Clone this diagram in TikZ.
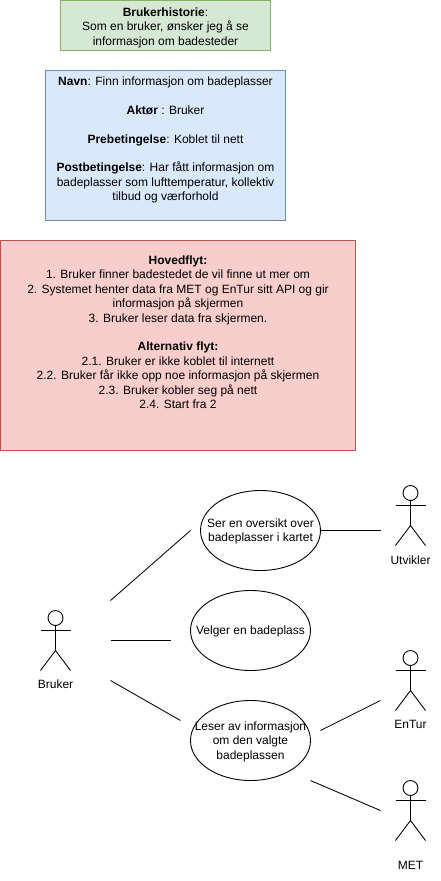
\documentclass[tikz,border=0pt]{standalone}
\usepackage{fontspec}
\setmainfont{Liberation Sans}
\usetikzlibrary{shapes.geometric}
\definecolor{gfill}{HTML}{D5E8D4}\definecolor{gline}{HTML}{82B366}
\definecolor{bfill}{HTML}{DAE8FC}\definecolor{bline}{HTML}{6C8EBF}
\definecolor{rfill}{HTML}{F8CECC}\definecolor{rline}{HTML}{B85450}
\tikzset{
  x=1pt,y=-1pt,
  every node/.style={font=\fontsize{12}{14.4}\selectfont,inner sep=0pt,outer sep=0pt,text=black},
  noteboxbase/.style={rectangle,draw,line width=1pt,align=center,anchor=north west},
  greenbox/.style={noteboxbase,fill=gfill,draw=gline,minimum width=210pt,minimum height=50pt},
  bluebox/.style={noteboxbase,fill=bfill,draw=bline,minimum width=240pt,minimum height=150pt},
  redbox/.style={noteboxbase,fill=rfill,draw=rline,minimum width=355pt,minimum height=210pt},
  usecase/.style={ellipse,draw,line width=0.9pt,minimum width=120pt,minimum height=80pt},
  uctext/.style={align=center,yshift=-1pt},
  assoc/.style={line width=0.85pt},
  pics/actor/.style n args={2}{code={
    \node[circle,draw,line width=0.9pt,minimum size=15pt] (-head) at (0,7.5) {};
    \coordinate (-hip) at (0,40);
    \draw[line width=0.9pt] (-head.south) -- (-hip);
    \coordinate (-la) at (-15,20); \coordinate (-ra) at (15,20);
    \draw[line width=0.9pt] (-la) -- (-ra);
    \coordinate (-ll) at (-15,60); \coordinate (-rl) at (15,60);
    \draw[line width=0.85pt] (-ll) -- (-hip) -- (-rl);
    \node (-name) at (0,#2) {#1};
  }}
}
\begin{document}
\begin{tikzpicture}
\useasboundingbox (-0.5,-0.5) rectangle (440.5,880.5);
\node[greenbox] (story) at (60,0) {\textbf{Brukerhistorie}:\\Som en bruker, ønsker jeg å se\\informasjon om badesteder\\[-15.9pt]\mbox{}};
\node[bluebox] (usecasecard) at (45,70) {\textbf{Navn}: Finn informasjon om badeplasser\\\mbox{}\\\textbf{Aktør} : Bruker\\\mbox{}\\\textbf{Prebetingelse}: Koblet til nett\\\mbox{}\\\textbf{Postbetingelse}: Har fått informasjon om\\badeplasser som lufttemperatur, kollektiv\\tilbud og værforhold\\[-1pt]\mbox{}};
\node[redbox] (flow) at (0,240) {\textbf{Hovedflyt:}\\1. Bruker finner badestedet de vil finne ut mer om\\2. Systemet henter data fra MET og EnTur sitt API og gir\\informasjon på skjermen\\3. Bruker leser data fra skjermen.\\\mbox{}\\\textbf{Alternativ flyt:}\\2.1. Bruker er ikke koblet til internett\\2.2. Bruker får ikke opp noe informasjon på skjermen\\2.3. Bruker kobler seg på nett\\2.4. Start fra 2\\\mbox{}\\[-2pt]\mbox{}};

\node[usecase] (uc1) at (260,530) {};
\node[uctext] (uc1t) at (uc1) {Ser en oversikt over\\badeplasser i kartet};
\node[usecase] (uc2) at (250,630) {};
\node[uctext] (uc2t) at (uc2) {Velger en badeplass};
\node[usecase] (uc3) at (250,740) {};
\node[uctext] (uc3t) at (uc3) {Leser av informasjon\\om den valgte\\badeplassen};

\pic (bruker) at (55,610) {actor={Bruker}{73.5}};
\pic (utvikler) at (410,485) {actor={Utvikler}{75}};
\pic (entur) at (410,650) {actor={EnTur}{73.5}};
\pic (met) at (410,780) {actor={MET}{84.5}};

\coordinate (a1) at (110,600); \coordinate (b1) at (190,530);
\coordinate (a2) at (110,640); \coordinate (b2) at (170,640);
\coordinate (a3) at (110,680); \coordinate (b3) at (180,720);
\coordinate (c1) at (380,530);
\coordinate (a4) at (320,730); \coordinate (b4) at (380,700);
\coordinate (a5) at (310,780); \coordinate (b5) at (380,810);
\draw[assoc] (a1) -- (b1);
\draw[assoc] (a2) -- (b2);
\draw[assoc] (a3) -- (b3);
\draw[assoc] (uc1.east) -- (c1);
\draw[assoc] (a4) -- (b4);
\draw[assoc] (a5) -- (b5);
\end{tikzpicture}
\end{document}
